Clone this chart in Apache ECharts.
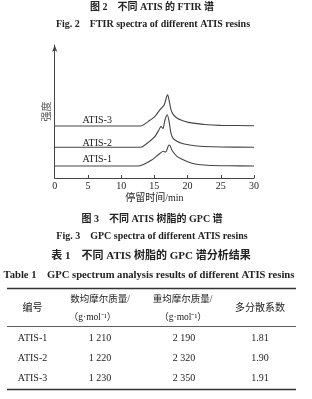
<!DOCTYPE html>
<html><head><meta charset="utf-8">
<script src="https://cdn.jsdelivr.net/npm/echarts@6/dist/echarts.min.js"></script>
<style>html,body{margin:0;padding:0;background:#fff}#c{width:312px;height:399px}</style>
</head><body><div id="c"></div>
<script>
// ---- chart data (retention time in min, intensity in arbitrary stacked units) ----
const time1 = [0, 12.2, 12.8, 13.6, 14.6, 15.6, 16.35, 16.7, 17.1, 17.3, 17.7, 18.4, 19.1, 20.1, 21.1, 23, 26, 30];
const inten1 = [9.0, 9.0, 9.2, 10.7, 13.5, 17.5, 20.1, 19.5, 24.0, 24.8, 20.5, 16.3, 14.3, 12.0, 10.5, 9.6, 9.2, 9.0];
const time2 = [0, 12.5, 13.1, 14.1, 15.1, 15.7, 16.0, 16.3, 16.6, 16.95, 17.25, 17.5, 17.85, 18.4, 19.1, 20.1, 21.1, 22.5, 25, 30];
const inten2 = [23.1, 23.1, 23.3, 26.8, 31.3, 36.3, 38.8, 37.1, 43.8, 47.6, 41.4, 33.8, 29.6, 27.6, 26.1, 25.0, 24.3, 23.7, 23.3, 23.1];
const time3 = [0, 12.5, 13.1, 14.1, 15.1, 15.85, 16.1, 16.5, 16.86, 17.0, 17.25, 17.5, 17.85, 18.4, 19.1, 20.1, 21.1, 22.5, 25, 30];
const inten3 = [39.1, 39.1, 39.3, 42.6, 46.4, 51.4, 52.6, 55.1, 61.4, 62.6, 57.7, 51.4, 47.6, 45.1, 43.4, 41.8, 41.1, 40.2, 39.6, 39.3];
const seriesNames = ['ATIS-1', 'ATIS-2', 'ATIS-3'];
const labelPos = [[6.4, 14.3], [6.4, 26.3], [6.4, 43.6]];
const xTicks = [0, 5, 10, 15, 20, 25, 30];

// ---- table data ----
const tableHead = ['编号', '数均摩尔质量/', '重均摩尔质量/', '多分散系数'];
const tableUnit = ['', '（g·mol⁻¹）', '（g·mol⁻¹）', ''];
const rowNames = ['ATIS-1', 'ATIS-2', 'ATIS-3'];
const mn = ['1 210', '1 220', '1 230'];
const mw = ['2 190', '2 320', '2 350'];
const pdi = ['1.81', '1.90', '1.91'];

const SERIF = '"Liberation Serif","Noto Sans CJK SC",serif';
const TXT = '#222';

const chart = echarts.init(document.getElementById('c'), null, {renderer: 'canvas'});
const times = [time1, time2, time3];
const intens = [inten1, inten2, inten3];
const series = seriesNames.map((n, i) => ({
  name: n, type: 'line', smooth: 0.25, symbol: 'none',
  lineStyle: {color: '#444', width: 1.1},
  data: times[i].map((t, k) => [t, intens[i][k]]),
  markPoint: {
    symbol: 'circle', symbolSize: 0, silent: true,
    label: {show: true, position: 'inside', formatter: n, color: TXT, fontFamily: SERIF, fontSize: 10},
    data: [{coord: labelPos[i]}]
  }
}));

const colX = [32.5, 100, 184, 260];
const unitX = [0, 92.5, 183, 0];
const gr = [];
function txt(x, y, s, size, bold, color) {
  gr.push({type: 'text', x: x, y: y, style: {text: s, fill: color || TXT, font: (bold ? 'bold ' : '') + size + 'px ' + SERIF, textAlign: 'center', textVerticalAlign: 'middle'}});
}
txt(152, 7.5, '图 2　不同 ATIS 的 FTIR 谱', 10, true);
txt(153, 24, 'Fig. 2　FTIR spectra of different ATIS resins', 10, true);
txt(152, 219, '图 3　不同 ATIS 树脂的 GPC 谱', 10, true);
txt(152, 236, 'Fig. 3　GPC spectra of different ATIS resins', 10, true);
txt(151, 256.5, '表 1　不同 ATIS 树脂的 GPC 谱分析结果', 11, true);
txt(149, 275.5, 'Table 1　GPC spectrum analysis results of different ATIS resins', 10.6, true);
function rule(y, w) {
  gr.push({type: 'line', shape: {x1: 7, y1: y, x2: 296, y2: y}, style: {stroke: '#333', lineWidth: w}});
}
rule(288.5, 1.5); rule(326.5, 0.8); rule(389.5, 1.5);
txt(colX[0], 308, tableHead[0], 10, false);
txt(colX[1], 299.5, tableHead[1], 9.5, false);
txt(182.5, 299.5, tableHead[2], 9.5, false);
txt(colX[3], 308, tableHead[3], 10, false);
txt(unitX[1], 317, tableUnit[1], 9.5, false);
txt(unitX[2], 317, tableUnit[2], 9.5, false);
const rowY = [338.5, 358.5, 378.5];
rowNames.forEach((r, i) => {
  txt(colX[0], rowY[i], r, 10, false);
  txt(colX[1], rowY[i], mn[i], 10, false);
  txt(colX[2], rowY[i], mw[i], 10, false);
  txt(colX[3], rowY[i], pdi[i], 10, false);
});

chart.setOption({
  animation: false,
  backgroundColor: '#fff',
  grid: {left: 54.7, right: 58, top: 45, bottom: 221, containLabel: false},
  xAxis: {
    type: 'value', min: 0, max: 30, interval: 5,
    name: '停留时间/min', nameLocation: 'middle', nameGap: 15,
    nameTextStyle: {color: TXT, fontFamily: SERIF, fontSize: 10},
    axisLine: {lineStyle: {color: '#444', width: 1}},
    axisTick: {show: true, inside: true, length: 3, lineStyle: {color: '#444'}},
    axisLabel: {color: TXT, fontFamily: SERIF, fontSize: 10, margin: 3,
      customValues: xTicks},
    splitLine: {show: false}
  },
  yAxis: {
    type: 'value', min: 0, max: 100,
    name: '强度', nameLocation: 'middle', nameGap: 2, nameRotate: 90,
    nameTextStyle: {color: '#555', fontFamily: SERIF, fontSize: 10},
    axisLine: {show: true, symbol: ['none', 'arrow'], symbolSize: [4, 7], lineStyle: {color: '#444', width: 1}},
    axisTick: {show: false}, axisLabel: {show: false}, splitLine: {show: false}
  },
  series: series,
  graphic: gr
});
</script></body></html>
